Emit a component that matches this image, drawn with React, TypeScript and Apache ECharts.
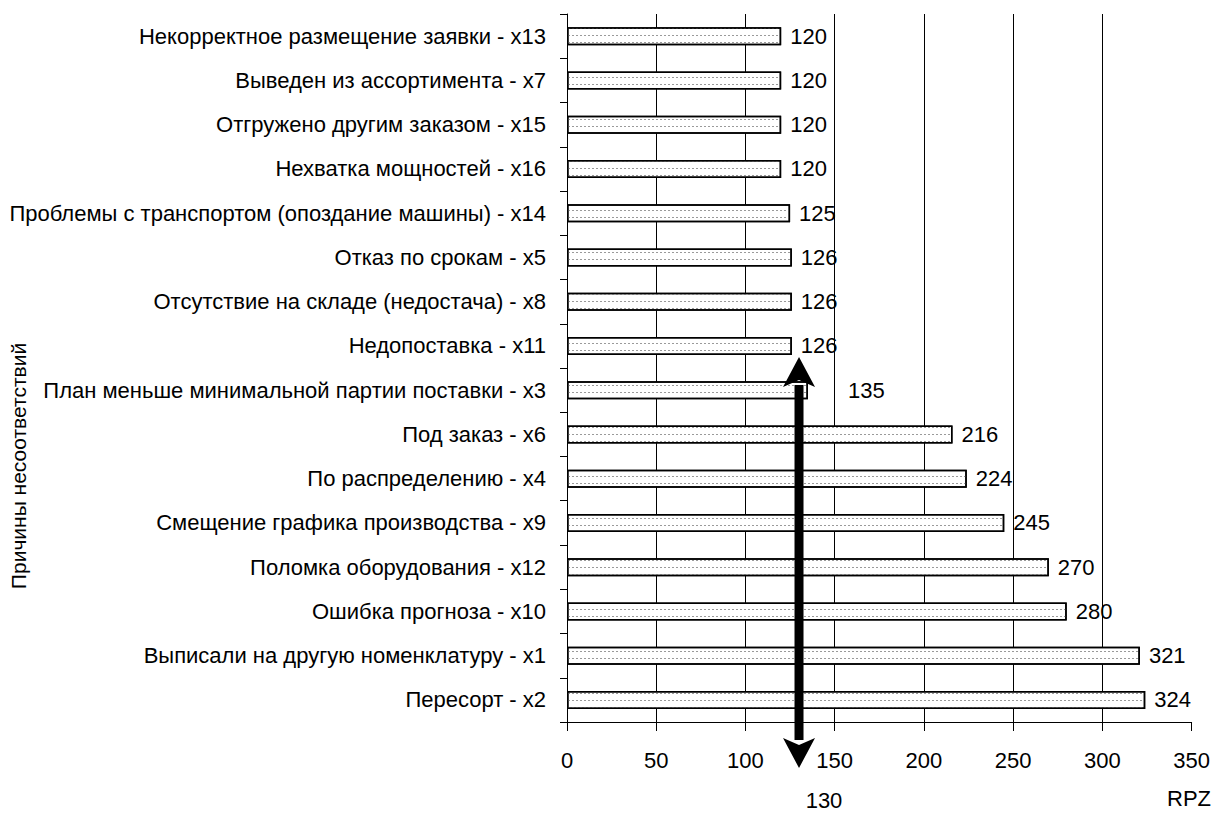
import React, { useEffect, useRef } from "react";
import * as echarts from "echarts";

const categories = [
  "Некорректное размещение заявки - x13",
  "Выведен из ассортимента - x7",
  "Отгружено другим заказом - x15",
  "Нехватка мощностей - x16",
  "Проблемы с транспортом (опоздание машины) - x14",
  "Отказ по срокам - x5",
  "Отсутствие на складе (недостача) - x8",
  "Недопоставка - x11",
  "План меньше минимальной партии поставки - x3",
  "Под заказ - x6",
  "По распределению - x4",
  "Смещение графика производства - x9",
  "Поломка оборудования - x12",
  "Ошибка прогноза - x10",
  "Выписали на другую номенклатуру - x1",
  "Пересорт - x2",
];
const values = [120, 120, 120, 120, 125, 126, 126, 126, 135, 216, 224, 245, 270, 280, 321, 324];
const xTicks = { min: 0, max: 350, interval: 50 };
const thresholdValue = 130;
const yAxisTitle = "Причины несоответствий";
const xAxisTitle = "RPZ";

const FONT = "'Liberation Sans', Arial, sans-serif";

export default function App() {
  const ref = useRef<HTMLDivElement>(null);
  useEffect(() => {
    if (!ref.current) return;
    const chart = echarts.init(ref.current, null, { renderer: "svg" });
    const data = values.map((v, i) =>
      categories[i].startsWith("План меньше")
        ? { value: v, label: { distance: 40 } }
        : v
    );
    chart.setOption({
      animation: false,
      backgroundColor: "#ffffff",
      textStyle: { fontFamily: FONT },
      grid: { left: 567, right: 21, top: 14, bottom: 92, containLabel: false },
      xAxis: {
        type: "value",
        min: xTicks.min,
        max: xTicks.max,
        interval: xTicks.interval,
        axisLine: { show: true, lineStyle: { color: "#000", width: 1 } },
        axisTick: { show: true, length: 9, lineStyle: { color: "#000" } },
        axisLabel: { color: "#000", fontSize: 22, margin: 27, fontFamily: FONT },
        splitLine: { show: true, showMaxLine: false, lineStyle: { color: "#000", width: 1 } },
      },
      yAxis: {
        type: "category",
        inverse: true,
        data: categories,
        axisLine: { show: true, lineStyle: { color: "#000", width: 1 } },
        axisTick: { show: true, length: 7, lineStyle: { color: "#000" } },
        axisLabel: { color: "#000", fontSize: 22, margin: 21, fontFamily: FONT },
        splitLine: { show: false },
      },
      series: [
        {
          type: "bar",
          data,
          barWidth: 18,
          itemStyle: {
            color: "#ffffff",
            borderColor: "#000",
            borderWidth: 1.5,
            decal: {
              symbol: "rect",
              symbolSize: 1,
              color: "#9a9a9a",
              backgroundColor: "#ffffff",
              dashArrayX: [[2, 2]],
              dashArrayY: [1, 6],
              rotation: 0,
            },
          },
          label: {
            show: true,
            position: "right",
            distance: 9,
            color: "#000",
            fontSize: 22,
            fontFamily: FONT,
          },
        },
      ],
    });

    const ax = chart.convertToPixel({ xAxisIndex: 0 }, thresholdValue) as number;
    const yTopTip = 357;
    const yBotTip = 768;
    const headH = 30;
    const headW = 32;
    chart.setOption({
      graphic: [
        {
          type: "line",
          shape: { x1: ax, y1: yTopTip + headH - 2, x2: ax, y2: yBotTip - headH + 2 },
          style: { stroke: "#000", lineWidth: 9 },
          z: 100,
        },
        {
          type: "polygon",
          shape: {
            points: [
              [ax, yTopTip],
              [ax - headW / 2, yTopTip + headH],
              [ax, yTopTip + headH - 7],
              [ax + headW / 2, yTopTip + headH],
            ],
          },
          style: { fill: "#000" },
          z: 100,
        },
        {
          type: "polygon",
          shape: {
            points: [
              [ax, yBotTip],
              [ax - headW / 2, yBotTip - headH],
              [ax, yBotTip - headH + 7],
              [ax + headW / 2, yBotTip - headH],
            ],
          },
          style: { fill: "#000" },
          z: 100,
        },
        {
          type: "text",
          x: ax + 25,
          y: 800,
          style: {
            text: String(thresholdValue),
            fill: "#000",
            font: `22px ${FONT}`,
            align: "center",
            verticalAlign: "middle",
          },
        },
        {
          type: "text",
          x: 1211,
          y: 798,
          style: {
            text: xAxisTitle,
            fill: "#000",
            font: `22px ${FONT}`,
            align: "right",
            verticalAlign: "middle",
          },
        },
        {
          type: "text",
          x: 18,
          y: 466,
          rotation: Math.PI / 2,
          style: {
            text: yAxisTitle,
            fill: "#000",
            font: `21px ${FONT}`,
            align: "center",
            verticalAlign: "middle",
          },
        },
      ],
    });
    return () => chart.dispose();
  }, []);
  return (
    <div
      ref={ref}
      style={{ position: "fixed", left: 0, top: 0, width: 1213, height: 814, background: "#fff" }}
    />
  );
}
